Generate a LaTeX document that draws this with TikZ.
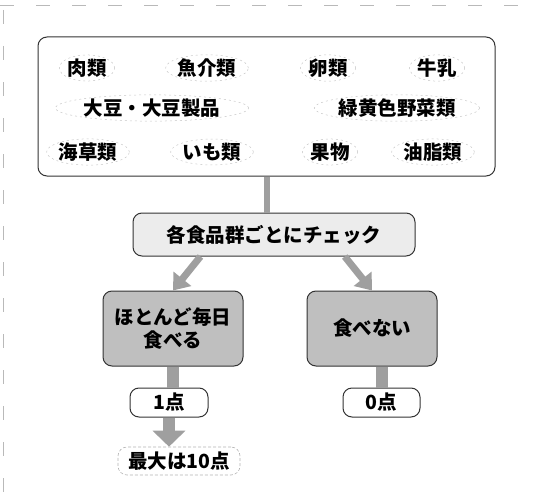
\documentclass[tikz,border=0pt]{standalone}
\usepackage{fontspec}
\setmainfont{Noto Sans CJK JP}
\usetikzlibrary{arrows.meta,shapes.geometric,calc}
\tikzset{
  box/.style={draw=black!80, line width=1pt, rounded corners=9pt, inner sep=0pt},
  food/.style={shape=ellipse, inner sep=0pt, draw=gray!45, line width=0.5pt, dash pattern=on 2pt off 3pt},
  bar/.style={draw=gray!75, line width=12pt},
  fatarrow/.style={draw=gray!75, line width=7pt, -{Triangle[width=22pt,length=15pt]}},
  scan/.style={draw=gray!55, line width=0.6pt, dash pattern=on 14pt off 22pt}
}
\begin{document}
\begin{tikzpicture}[x=1pt,y=-1pt, font=\fontsize{19.5}{23}\selectfont\bfseries]
\useasboundingbox (0,0) rectangle (535,503);
% scan edges
\draw[scan] (0,5) -- (535,5);
\draw[scan] (3,10) -- (3,503);
% big group box
\node[box, minimum width=457pt, minimum height=139pt] (group) at (266.5,106.5) {};
\node[food] (niku) at (87,68) {肉類};
\node[food] (gyo) at (207,68) {魚介類};
\node[food] (ran) at (328,68) {卵類};
\node[food] (gyu) at (437,68) {牛乳};
\node[food] (daizu) at (152,108) {大豆・大豆製品};
\node[food] (ryoku) at (397,108) {緑黄色野菜類};
\node[food] (kaiso) at (88,152) {海草類};
\node[food] (imo) at (212,152) {いも類};
\node[food] (kuda) at (330,152) {果物};
\node[food] (yushi) at (433,152) {油脂類};
% check box
\node[box, fill=gray!15, minimum width=282pt, minimum height=43pt] (check) at (274,234.5) {各食品群ごとにチェック};
% outcome boxes
\node[box, fill=gray!50, minimum width=140pt, minimum height=75pt, align=center] (daily) at (173,328.5) {ほとんど毎日\\食べる};
\node[box, fill=gray!50, minimum width=130pt, minimum height=75pt] (never) at (372,328.5) {食べない};
% score boxes
\node[box, fill=white, minimum width=78pt, minimum height=29pt] (one) at (169,402.5) {1点};
\node[box, fill=white, minimum width=77pt, minimum height=29pt] (zero) at (381.5,402.5) {0点};
\node[box, draw=gray!60, line width=0.6pt, dash pattern=on 3pt off 2pt, minimum width=122pt, minimum height=28pt] (max) at (179,461) {最大は10点};
% connectors
\draw[draw=gray!75, line width=6pt] (group.south) -- (group.south |- check.north);
\coordinate (cl) at ($(check.south west)!0.24!(check.south east)$);
\coordinate (cr) at ($(check.south west)!0.75!(check.south east)$);
\draw[fatarrow] (cl) -- (daily.north);
\draw[fatarrow] (cr) -- (never.north);
\draw[bar] (daily.south) -- (daily.south |- one.north);
\draw[bar, -{Triangle[width=32pt,length=16pt]}] (one.south) -- (one.south |- max.north);
\draw[bar] (zero.north) -- (zero.north |- never.south);
\end{tikzpicture}
\end{document}
